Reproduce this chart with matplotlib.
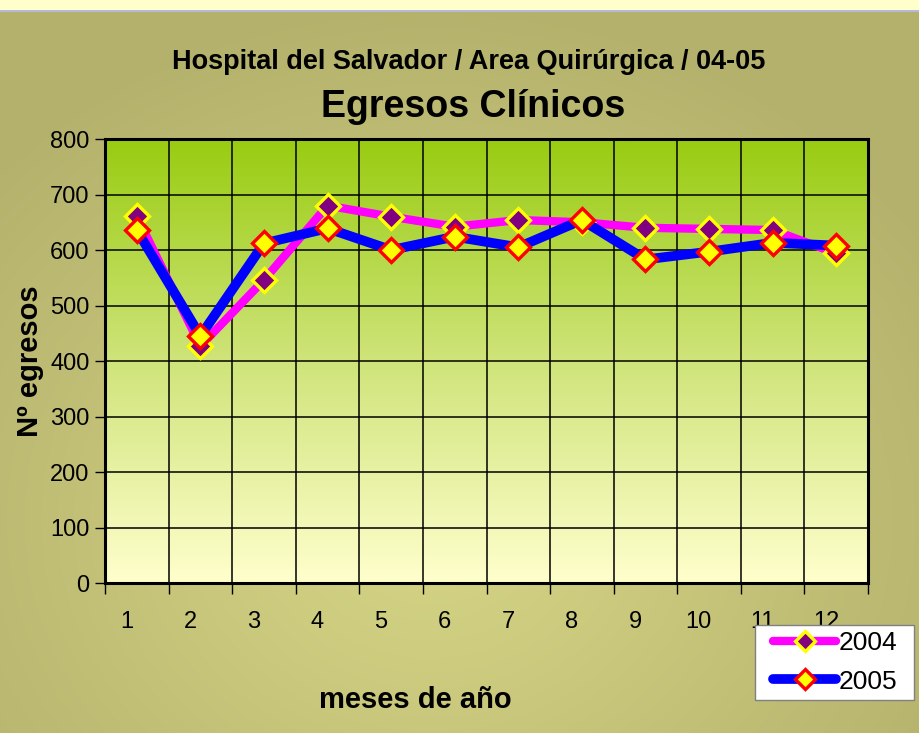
import numpy as np
import matplotlib
matplotlib.use("Agg")
import matplotlib.pyplot as plt
from matplotlib.colors import LinearSegmentedColormap, to_rgb
from matplotlib.patches import Rectangle

months = ["1", "2", "3", "4", "5", "6", "7", "8", "9", "10", "11", "12"]
y2004 = [661, 427, 546, 680, 660, 642, 654, 650, 640, 638, 636, 594]
y2005 = [636, 445, 612, 639, 600, 624, 605, 654, 583, 597, 613, 608]
yticks = [0, 100, 200, 300, 400, 500, 600, 700, 800]

plt.rcParams['font.family'] = ['Liberation Sans', 'DejaVu Sans']

W, H = 919, 733
fig = plt.figure(figsize=(W / 100, H / 100), dpi=100)

# figure background: olive radial gradient
bg = fig.add_axes([0, 0, 1, 1], zorder=-10)
yy, xx = np.mgrid[0:H, 0:W]
d = np.sqrt(((xx - 430) / 600.0) ** 2 + ((yy - 520) / 520.0) ** 2)
d = np.clip(d, 0, 1)
c0 = np.array(to_rgb("#d6d686"))
c1 = np.array(to_rgb("#b4b16c"))
img = c0[None, None, :] * (1 - d[..., None]) + c1[None, None, :] * d[..., None]
img[0:10] = to_rgb("#ffffcc")
img[10:12] = to_rgb("#b8b8dc")
bg.imshow(img, aspect='auto', extent=[0, W, H, 0])
bg.set_xlim(0, W)
bg.set_ylim(H, 0)
bg.axis('off')

# plot area
L, R, T, B = 105, 868, 139, 583
ax = fig.add_axes([L / W, 1 - B / H, (R - L) / W, (B - T) / H])
ax.set_xlim(-0.5, 11.5)
ax.set_ylim(0, 800)

grad = np.linspace(0, 1, 256)[:, None]
cmap = LinearSegmentedColormap.from_list("g", ["#ffffcc", "#cfe47a", "#99cc11"])
ax.imshow(grad, aspect='auto', cmap=cmap, extent=[-0.5, 11.5, 0, 800],
          origin='lower', zorder=0)

x = np.arange(len(months))
for yv in yticks[1:-1]:
    ax.axhline(yv, color='black', lw=1.1, zorder=1)
for b in np.arange(0.5, 11.5, 1.0):
    ax.axvline(b, color='black', lw=1.1, zorder=1)

ax.plot(x, y2004, color='#ff00ff', lw=6, marker='D', ms=12.5,
        markerfacecolor='#800080', markeredgecolor='#ffff00', mew=2.4,
        zorder=3, label='2004', solid_capstyle='round')
ax.plot(x, y2005, color='#0000ff', lw=7, marker='D', ms=12.5,
        markerfacecolor='#ffff00', markeredgecolor='#ff0000', mew=2.4,
        zorder=4, label='2005', solid_capstyle='round')

for s in ax.spines.values():
    s.set_linewidth(2.2)
    s.set_color('black')

ax.set_yticks(yticks)
ax.set_yticklabels([str(v) for v in yticks], fontsize=17)
ax.tick_params(axis='y', direction='out', length=7, width=1, pad=4)

ax.set_xticks(np.arange(-0.5, 12.0, 1.0))
ax.set_xticklabels([])
ax.tick_params(axis='x', which='major', direction='out', length=8, width=1)
ax.set_xticks(x - 0.16, minor=True)
ax.set_xticklabels(months, minor=True, fontsize=17)
ax.tick_params(axis='x', which='minor', length=0, pad=20)

fig.text(0.51, 1 - 62 / H, "Hospital del Salvador / Area Quirúrgica / 04-05",
         ha='center', va='center', fontsize=19.5, fontweight='bold')
fig.text(0.515, 1 - 107 / H, "Egresos Clínicos", ha='center', va='center',
         fontsize=27, fontweight='bold')
fig.text(415 / W, 1 - 700 / H, "meses de año", ha='center', va='center',
         fontsize=21, fontweight='bold')
fig.text(30 / W, 1 - 361 / H, "Nº egresos", ha='center', va='center',
         rotation=90, fontsize=21, fontweight='bold')

# legend box (drawn separately to control padding)
box = Rectangle((755 / W, 1 - 700 / H), (914 - 755) / W, 75 / H,
                transform=fig.transFigure, facecolor='white',
                edgecolor='#808080', lw=1.0, zorder=5)
fig.patches.append(box)

leg = fig.legend(loc='upper left', bbox_to_anchor=(773 / W, 1 - 631 / H),
                 fontsize=19, frameon=False, handlelength=2.4,
                 handletextpad=0.1, borderpad=0, labelspacing=0.55,
                 borderaxespad=0, markerscale=0.85)
leg.set_zorder(6)

fig.savefig("out.png", dpi=100)
